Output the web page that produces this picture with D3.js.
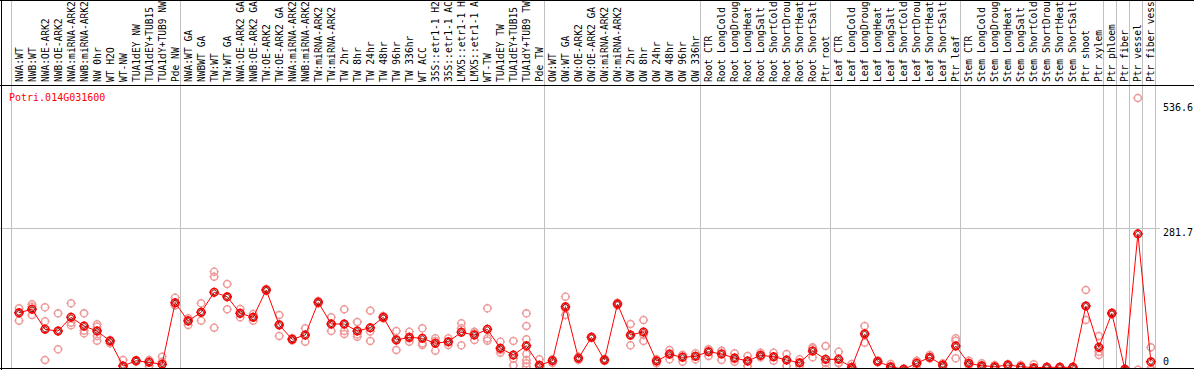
<!DOCTYPE html>
<html>
<head>
<meta charset="utf-8">
<script src="https://cdn.jsdelivr.net/npm/d3@7"></script>
<style>
	body{margin:0;background:#fff;}
	svg{display:block;}
	text{font-family:"DejaVu Sans Mono", monospace;}
</style>
</head>
<body>
<div id="chart"></div>
<script>
// gene + tick labels
const geneId = "Potri.014G031600";
const tickValues = [536.6, 281.7, 0];

// sample names, one per column
const samples = [
	"NWA:WT","NWB:WT","NWA:OE-ARK2","NWB:OE-ARK2","NWA:miRNA-ARK2","NWB:miRNA-ARK2","NW 0hr","WT H2O","WT-NW",
	"TUA1dEY NW","TUA1dEY+TUB15 NW","TUA1dY+TUB9 NW","Pde NW",
	"NWA:WT GA","NWBWT GA","TW:WT","TW:WT GA","NWA:OE-ARK2 GA","NWB:OE-ARK2 GA","TW:OE-ARK2","TW:OE-ARK2 GA",
	"NWA:miRNA-ARK2","NWB:miRNA-ARK2","TW:miRNA-ARK2","TW:miRNA-ARK2","TW 2hr","TW 8hr","TW 24hr","TW 48hr",
	"TW 96hr","TW 336hr","WT ACC","35S::etr1-1 H2O","35S::etr1-1 ACC","LMX5::etr1-1 H2O","LMX5::etr1-1 ACC",
	"WT-TW","TUA1dEY TW","TUA1dEY+TUB15 TW","TUA1dY+TUB9 TW","Pde TW",
	"OW:WT","OW:WT GA","OW:OE-ARK2","OW:OE-ARK2 GA","OW:miRNA-ARK2","OW:miRNA-ARK2","OW 2hr","OW 8hr","OW 24hr",
	"OW 48hr","OW 96hr","OW 336hr",
	"Root CTR","Root LongCold","Root LongDrought","Root LongHeat","Root LongSalt","Root ShortCold",
	"Root ShortDrought","Root ShortHeat","Root ShortSalt","Ptr root",
	"Leaf CTR","Leaf LongCold","Leaf LongDrought","Leaf LongHeat","Leaf LongSalt","Leaf ShortCold",
	"Leaf ShortDrought","Leaf ShortHeat","Leaf ShortSalt","Ptr leaf",
	"Stem CTR","Stem LongCold","Stem LongDrought","Stem LongHeat","Stem LongSalt","Stem ShortCold",
	"Stem ShortDrought","Stem ShortHeat","Stem ShortSalt","Ptr shoot","Ptr xylem",
	"Ptr phloem","Ptr fiber","Ptr vessel","Ptr fiber vessel"
];

// first column of each experiment block
const groupStarts = [0, 13, 41, 53, 63, 73, 84, 85, 86, 87];

// mean expression per sample
const means = [
	133.8,140.2,102.6,99.4,125.1,108.8,99.4,80.7,33.8,43.7,40.7,37.0,152.5,
	118.2,134.5,172.0,163.8,132.6,125.1,176.4,110.7,83.9,91.9,153.3,112.6,112.6,99.4,105.6,125.1,
	82.6,87.6,85.7,76.4,79.4,97.0,91.9,102.6,67.0,54.4,71.9,35.1,
	43.7,145.0,48.2,87.6,45.0,150.1,91.9,97.6,43.2,55.7,50.1,52.0,
	60.6,56.3,48.8,43.2,53.8,51.2,45.0,40.0,61.9,46.3,
	46.3,31.3,93.8,42.2,32.5,27.6,38.8,50.1,35.6,71.3,
	38.8,34.3,32.5,35.6,32.5,30.6,31.3,31.3,31.3,146.3,68.9,
	132.6,27.6,281.7,41.8
];

// replicate values per sample
const replicates = [
	[142.0,133.8,118.8],[149.5,145.0,129.5],[143.9,117.6,45.0],[132.6,99.4,65.1],[151.4,115.0,110.1],
	[132.6,100.0,95.1],[112.0,107.5,90.1,81.2],[82.6,76.4,80.7],[45.0,33.8,22.6],[45.0,43.7,42.4],
	[45.0,33.8,43.3],[51.2,41.8,22.5],[161.9,148.2,147.4],
	[123.3,110.7,120.6],[151.4,118.8,133.3],[210.7,201.3,105.6],[187.6,140.2,163.6],[140.7,125.1,132.0],
	[131.3,118.8,125.2],[178.2,176.4,174.6],[129.5,90.1,112.5],[86.0,83.9,81.8],[104.5,79.4,91.8],
	[155.7,153.3,150.9],[125.1,99.4,113.3],[140.2,112.6,99.4,93.8],[116.3,88.7,93.2],[137.5,80.7,98.6],
	[127.6,125.1,122.9],[99.4,63.8,84.6],[98.1,79.4,85.3],[104.5,76.4,73.2],[85.7,62.5,80.7],
	[85.7,73.2,79.4],[113.9,72.6,104.5],[98.1,82.6,95.1],[142.0,85.7,81.2],[79.4,58.7,63.8],
	[80.7,35.1,47.5],[132.6,108.8,83.9,56.3,45.0,38.8,32.5],[46.3,33.8,26.3],
	[46.3,39.4,45.0],[163.8,129.5,142.0],[51.2,45.0,48.4],[88.7,87.6,86.5],[46.9,43.2,45.0],
	[152.5,150.1,147.7],[112.6,72.6,90.6],[120.1,80.7,92.0],[46.3,38.8,44.5],[63.8,46.3,57.0],
	[54.4,41.8,54.1],[57.6,52.0,46.3],
	[65.1,52.5,64.2],[62.5,45.0,61.4],[57.6,41.8,46.9],[52.5,33.8,43.2],[58.7,50.1,52.5],
	[58.7,43.7,51.2],[56.3,33.8,45.0],[46.3,33.8,40.0],[68.9,50.1,66.8],[71.3,28.1,39.4],
	[60.6,38.8,40.0],[37.5,30.0,26.3],[108.8,77.5,95.1],[44.0,41.8,40.8],[37.5,31.3,28.7],
	[29.1,27.6,24.4],[43.7,30.0,42.6],[54.4,48.2,47.7],[38.8,32.5,35.6],[85.7,81.2,48.2],
	[43.7,35.1,38.1],[38.8,33.8,30.6],[35.6,30.0,31.9],[37.5,33.8,35.6],[35.6,30.0,31.9],
	[37.0,26.3,28.7],[32.5,30.0,31.3],[32.5,30.0,31.3],[32.5,30.0,31.3],[176.4,146.3,120.1],
	[90.1,60.6,54.4],
	[134.1,132.6,130.8],[28.7,27.6,25.3],[536.6,26.8],[68.9,29.1,26.3]
];

const width = 1194, height = 370;
const labelBottom = 85, plotBottom = 368;
const meanColor = "#ff0000", repColor = "#ee9a9a", gridColor = "#c0c0c0";

var x = d3.scaleBand().domain(d3.range(samples.length)).range([10.5, 1155.4]).paddingInner(0);
var cx = function(i){ return x(i) + 8.5; };
var y = d3.scaleLinear().domain([0, d3.max(replicates, function(r){ return d3.max(r); })]).range([384, 98]);
var crisp = function(v){ return Math.round(v) + 0.5; };

var svg = d3.select('#chart').append('svg')
	.attr('width', width)
	.attr('height', height)
	.style('background', '#fff');

svg.append('clipPath').attr('id', 'plotclip')
	.append('rect').attr('x', 0).attr('y', labelBottom + 1).attr('width', width).attr('height', plotBottom - labelBottom - 1);

//separators between experiment blocks
var seps = groupStarts.map(function(i){ return x(i); }).concat([x.range()[1]]);
svg.selectAll('line.sep').data(seps).enter().append('line')
	.attr('class', 'sep')
	.attr('x1', function(d){ return crisp(d); }).attr('x2', function(d){ return crisp(d); })
	.attr('y1', 0).attr('y2', plotBottom)
	.attr('stroke', gridColor).attr('stroke-width', 1).attr('shape-rendering', 'crispEdges');

//grid line at max mean
var meanMax = d3.max(means);
svg.append('line')
	.attr('x1', 0).attr('x2', 1160)
	.attr('y1', crisp(y(meanMax) - 6)).attr('y2', crisp(y(meanMax) - 6))
	.attr('stroke', gridColor).attr('shape-rendering', 'crispEdges');

//frame
var frame = [
	[0, 0.5, width, 0.5],
	[0, labelBottom + 0.5, width, labelBottom + 0.5],
	[0, plotBottom + 0.5, width, plotBottom + 0.5],
	[1.5, 0, 1.5, height]
];
svg.selectAll('line.frame').data(frame).enter().append('line')
	.attr('class', 'frame')
	.attr('x1', function(d){ return d[0]; }).attr('y1', function(d){ return d[1]; })
	.attr('x2', function(d){ return d[2]; }).attr('y2', function(d){ return d[3]; })
	.attr('stroke', '#000').attr('shape-rendering', 'crispEdges');

//sample labels, rotated
svg.selectAll('text.sample').data(samples).enter().append('text')
	.attr('class', 'sample')
	.attr('transform', function(d, i){ return "translate(" + (cx(i) + 3.5) + "," + (labelBottom - 3) + ") rotate(-90)"; })
	.attr('font-size', '9.6px')
	.attr('fill', '#000')
	.text(function(d){ return d; });

var plot = svg.append('g').attr('clip-path', 'url(#plotclip)');

//marker = ring with small notches
function marker(sel, r){
	sel.append('circle').attr('r', r).attr('fill', 'none');
	sel.append('path').attr('fill', 'none')
		.attr('d', "M" + (-r - 1) + ",0h2M" + (r - 1) + ",0h2M0," + (-r - 1) + "v2M0," + (r - 1) + "v2");
}

var repPts = [];
replicates.forEach(function(r, i){
	r.forEach(function(v){ repPts.push({i: i, v: v}); });
});

var reps = plot.selectAll('g.rep').data(repPts).enter().append('g')
	.attr('class', 'rep')
	.attr('transform', function(d){ return "translate(" + cx(d.i) + "," + y(d.v) + ")"; })
	.attr('stroke', repColor).attr('stroke-width', 1.3);
marker(reps, 3.6);

//mean line
var line = d3.line().x(function(d, i){ return cx(i); }).y(function(d){ return y(d); });
plot.append('path').datum(means)
	.attr('d', line)
	.attr('fill', 'none')
	.attr('stroke', meanColor)
	.attr('stroke-width', 1);

var mPts = plot.selectAll('g.mean').data(means).enter().append('g')
	.attr('class', 'mean')
	.attr('transform', function(d, i){ return "translate(" + cx(i) + "," + y(d) + ")"; })
	.attr('stroke', meanColor).attr('stroke-width', 1.5);
marker(mPts, 3.8);
mPts.append('circle').attr('r', 2.4).attr('fill', 'none').attr('stroke', '#600').attr('stroke-width', 0.8);

//value labels at right
var tickPos = [y(tickValues[0]) + 12.5, y(tickValues[1]) + 2, plotBottom - 3];
svg.selectAll('text.tick').data(tickValues).enter().append('text')
	.attr('class', 'tick')
	.attr('x', 1163)
	.attr('y', function(d, i){ return tickPos[i]; })
	.attr('font-size', '10px')
	.attr('fill', '#000')
	.text(function(d){ return d; });

svg.append('text')
	.attr('x', 9)
	.attr('y', 100.5)
	.attr('font-size', '10px')
	.attr('fill', meanColor)
	.text(geneId);
</script>
</body>
</html>
